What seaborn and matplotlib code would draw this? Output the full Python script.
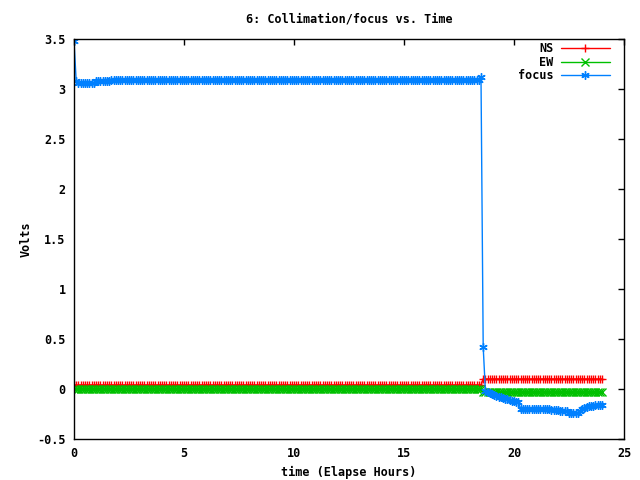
import numpy as np
import pandas as pd
import matplotlib
matplotlib.use("Agg")
import matplotlib.pyplot as plt
from matplotlib.lines import Line2D
from matplotlib.ticker import MultipleLocator, FormatStrFormatter
import seaborn as sns

# sample times (hours), one reading every 0.1 h from 0 to 24
time = np.round(np.arange(241) * 0.1, 1)

# series stored as (level, run length) pairs
ns_levels = [0.04, 0.10]
ns_counts = [186, 55]

ew_levels = [0.0, -0.03]
ew_counts = [186, 55]

focus_levels = [3.48, 3.08, 3.06, 3.08, 3.09, 3.12, 0.42, -0.02,
                -0.03, -0.04, -0.05, -0.06, -0.07, -0.08, -0.08, -0.09,
                -0.10, -0.10, -0.11, -0.12, -0.12, -0.13, -0.13,
                -0.20, -0.21, -0.22, -0.24, -0.22, -0.20, -0.19, -0.18,
                -0.17, -0.16]
focus_counts = [1, 1, 8, 7, 168, 1, 1, 1,
                1, 1, 1, 1, 1, 1, 1, 1,
                1, 1, 1, 1, 1, 1, 1,
                14, 4, 4, 5, 1, 1, 1, 1,
                3, 4]

ns = np.repeat(ns_levels, ns_counts)
ew = np.repeat(ew_levels, ew_counts)
focus = np.repeat(focus_levels, focus_counts)

df = pd.DataFrame({"time": time, "NS": ns, "EW": ew, "focus": focus})

sns.set_style("white")
plt.rcParams["font.family"] = ["DejaVu Sans Mono"]
plt.rcParams["font.weight"] = "bold"
plt.rcParams["font.size"] = 8.5
plt.rcParams["text.color"] = "black"
plt.rcParams["axes.labelcolor"] = "black"

fig = plt.figure(figsize=(6.4, 4.8), dpi=100)
ax = fig.add_axes([74 / 640, 1 - 439 / 480, 550 / 640, 400 / 480])

styles = [
    ("NS", "#ff0000", "+"),
    ("EW", "#00c000", "x"),
    ("focus", "#0080ff", (6, 2, 0)),
]
handles = []
for name, color, marker in styles:
    sns.lineplot(
        data=df, x="time", y=name, ax=ax,
        color=color, marker=marker, markersize=6,
        markeredgewidth=1, markeredgecolor=color,
        linewidth=1, estimator=None, legend=False
    )
    handles.append(Line2D([], [], color=color, marker=marker, markersize=6,
                          markeredgewidth=1, linewidth=1, label=name))

ax.set_xlim(0, 25)
ax.set_ylim(-0.5, 3.5)
ax.xaxis.set_major_locator(MultipleLocator(5))
ax.yaxis.set_major_locator(MultipleLocator(0.5))
ax.yaxis.set_major_formatter(FormatStrFormatter("%g"))
ax.tick_params(direction="in", length=4, width=1, top=True, right=True,
               colors="black", labelsize=8.5, pad=6)
for s in ax.spines.values():
    s.set_color("black")
    s.set_linewidth(1)

ax.set_title("6: Collimation/focus vs. Time", fontsize=8.5, pad=12,
             fontweight="bold", color="black")
ax.set_xlabel("time (Elapse Hours)", fontsize=8.5, fontweight="bold")
ax.set_ylabel("Volts", fontsize=8.5, fontweight="bold", labelpad=3)

leg = ax.legend(handles=handles, loc="upper right",
                bbox_to_anchor=(0.99, 1.0125), borderaxespad=0.3,
                frameon=False, markerfirst=False, handlelength=4.2,
                numpoints=1, fontsize=8.5, labelspacing=0.05,
                handletextpad=0.6)
for t in leg.get_texts():
    t.set_color("black")

fig.savefig("out.png", dpi=100)
